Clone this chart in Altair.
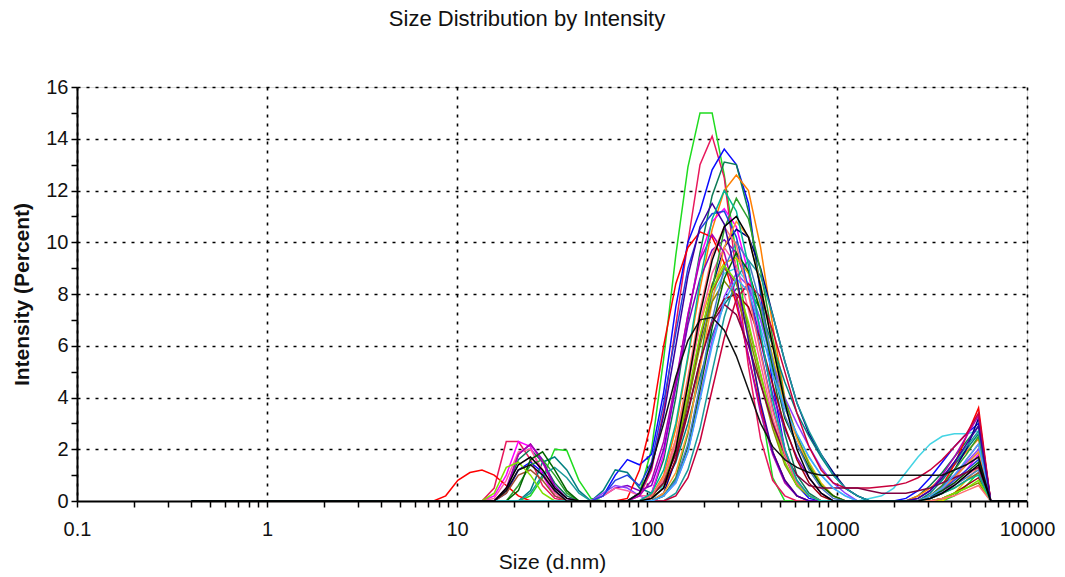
import altair as alt
import pandas as pd

# Malvern size classes (d.nm), 70 bins
SIZES = [0.4, 0.4632, 0.5365, 0.6213, 0.7195, 0.8332, 0.9649, 1.117, 1.294, 1.499,
         1.736, 2.01, 2.328, 2.696, 3.122, 3.615, 4.187, 4.849, 5.615, 6.503,
         7.531, 8.721, 10.1, 11.7, 13.54, 15.69, 18.17, 21.04, 24.36, 28.21,
         32.67, 37.84, 43.82, 50.75, 58.77, 68.06, 78.82, 91.28, 105.7, 122.4,
         141.8, 164.2, 190.1, 220.2, 255.0, 295.3, 342.0, 396.1, 458.7, 531.2,
         615.1, 712.4, 825.0, 955.4, 1106, 1281, 1484, 1718, 1990, 2305,
         2669, 3091, 3580, 4145, 4801, 5560, 6439, 7456, 8635, 10000]

# intensity (%) for bins 8.721 .. 6439 nm (46 values each); other bins are 0
R01 = [0,0,0,0,0,0,0,0.2,0.9,2.0, 1.95,0.8,0.1,0,0,0,0.3,2.0,5.5,9.5,
       12.9,15.0,15.0,12.6,9.5,6.4,3.7,0.9,0,0, 0,0,0,0,0,0,0,0,0,0, 0,0,0.2,0.6,1.1,0]
R02 = [0,0,0,0,0.5,2.3,2.3,1.6,0.6,0.1, 0,0,0,0,0,0,0.2,1.2,3.5,6.8,
       10.0,13.0,14.1,12.5,8.8,5.2,2.4,0.8,0.2,0, 0,0,0,0,0,0,0,0,0,0, 0.1,0.4,0.9,1.6,2.2,0]
R03 = [0,0,0,0,0,0.3,1.2,1.5,1.1,0.4, 0,0,0,0.2,1.0,1.6,1.4,1.8,4.2,7.5,
       10.0,11.2,12.8,13.6,13.0,11.5,8.0,4.5,2.0,0.6, 0.1,0,0,0,0,0,0,0,0.1,0.4, 0.9,1.5,2.1,2.6,3.0,0]
R04 = [0,0,0,0,0,0.4,1.6,2.0,1.5,0.7, 0.2,0,0,0,0,0,0,0.3,1.6,4.0,
       7.0,9.6,11.8,13.1,13.0,11.2,8.2,5.0,2.6,1.0, 0.3,0,0,0,0,0,0,0,0,0.2, 0.6,1.1,1.7,2.3,2.9,0]
R05 = [0,0,0,0,0,0,0,0,0,0, 0,0,0,0,0,0,0,0.2,1.0,2.8,
       5.5,8.2,10.5,12.0,12.6,12.0,9.8,6.8,4.0,2.5, 1.4,0.6,0.2,0,0,0,0,0,0,0.2, 0.5,0.9,1.4,1.9,2.4,0]
R06 = [0,0,0,0,0,0.5,1.4,1.7,1.2,0.5, 0.1,0,0,0,0,0,0,0.1,0.5,2.0,
       4.5,7.2,9.3,10.6,11.0,10.2,8.3,6.0,3.8,2.0, 0.9,0.3,0,0,0,0,0,0,0,0, 0.1,0.3,0.6,1.0,1.4,0]
R07 = [0,0,0,0,0.2,1.0,2.3,2.1,1.0,0.2, 0,0,0,0,0,0,0,0.3,1.8,4.5,
       7.2,9.4,10.8,11.3,10.6,8.8,6.4,4.0,2.0,0.8, 0.2,0,0,0,0,0,0,0,0,0, 0.1,0.3,0.7,1.2,1.8,0]
R08 = [0,0,0,0,0,0,0,0.4,1.5,1.7, 1.2,0.4,0,0.4,1.2,1.1,0.5,0.3,0.6,1.5,
       3.0,4.8,6.4,7.6,8.2,8.2,7.4,6.0,4.6,3.4, 2.5,1.7,1.0,0.5,0.2,0,0,0,0,0, 0.3,0.8,1.4,2.0,2.6,0]
R09 = [0,0,0,0,0,0.4,1.8,2.2,1.6,0.6, 0.1,0,0,0.2,0.5,0.6,0.4,0.6,2.0,4.4,
       6.8,8.6,9.7,10.1,9.6,8.2,6.2,4.1,2.8,1.7, 0.9,0.3,0,0,0,0,0,0,0,0, 0.2,0.5,0.9,1.4,1.9,0]
R10 = [0,0,0,0,0,0,0,0,0,0, 0,0,0,0,0,0,0,0.1,0.8,2.4,
       4.6,6.8,8.4,9.2,9.4,8.8,7.4,5.6,3.6,2.5, 1.5,0.7,0.2,0,0,0,0,0,0,0, 0,0,0.3,0.8,1.3,0]
R11 = [0,0,0,0,0,0,0,0,0,0, 0,0,0,0,0,0,0,0,0.6,2.0,
       4.0,6.2,7.9,8.8,9.0,8.4,7.0,5.2,3.6,2.6, 1.7,1.0,0.5,0.2,0,0.1,0.2,0.5,1.1,1.7, 2.2,2.5,2.6,2.6,2.7,0]
R12 = [0.2,0.8,1.1,1.2,1.0,0.6,0.2,0,0,0, 0,0,0,0,0,0.1,1.2,3.1,6.0,8.4,
       9.8,10.4,10.2,9.2,7.6,5.6,3.6,1.9,0.8,0.2, 0,0,0,0,0,0,0,0,0,0, 0.2,0.6,1.4,2.5,3.6,0]
R13 = [0,0,0,0,0,0,0,0,0,0, 0,0,0,0,0,0,0,0,0.3,1.6,
       3.8,6.2,8.3,9.8,10.5,10.2,9.0,7.2,5.4,3.8, 2.6,1.8,1.1,0.5,0.2,0,0,0,0,0, 0.1,0.5,1.2,2.0,3.2,0]
R14 = [0,0,0,0,0,0.4,1.2,1.4,1.0,0.4, 0,0,0,0,0,0,0.3,1.4,3.0,4.8,
       6.2,7.0,7.1,6.6,5.6,4.3,3.0,2.1,1.6,1.3, 1.1,1.0,1.0,1.0,1.0,1.0,1.0,1.0,1.0,1.0, 1.0,1.0,1.2,1.4,1.7,0]
R15 = [0,0,0,0,0,0,0,0,0,0, 0,0,0,0.3,0.6,0.5,0.2,0,0.2,0.7,
       1.9,4.0,6.2,7.9,8.8,8.3,7.0,5.3,4.0,3.0, 2.1,1.3,0.7,0.3,0,0,0,0,0,0, 0.2,0.6,1.0,1.5,2.0,0]
R16 = [0,0,0,0,0.1,0.8,1.9,2.0,1.2,0.3, 0,0,0,0.2,0.5,0.4,0.2,0.2,0.8,2.2,
       4.4,6.9,8.8,9.8,9.1,7.4,5.3,3.2,1.7,0.7, 0.2,0,0,0,0,0,0,0,0,0, 0.1,0.3,0.6,1.0,1.3,0]
R17 = [0,0,0,0,0,0,0.6,1.4,1.6,1.0, 0.3,0,0,0,0,0,0,0,0.2,0.9,
       2.6,5.3,8.2,10.5,11.7,10.9,8.9,6.3,3.9,2.5, 1.4,0.6,0.2,0,0,0,0,0,0,0, 0.2,0.6,1.2,1.8,2.5,0]
R18 = [0,0,0,0,0,0,0,0,0,0, 0,0,0,0,0,0,0,0.1,0.5,1.6,
       3.4,5.4,7.0,7.8,8.0,7.5,6.2,4.5,2.9,1.6, 0.7,0.2,0,0,0,0,0,0,0,0, 0,0.1,0.3,0.6,0.9,0]
R19 = [0,0,0,0,0,0,0,0,0,0, 0,0,0,0.2,0.8,1.0,0.6,1.5,3.8,6.5,
       9.0,10.5,11.1,11.2,10.2,8.2,5.8,3.6,1.8,0.7, 0.2,0,0,0,0,0,0,0,0,0, 0.1,0.4,0.8,1.2,1.6,0]
R20 = [0,0,0,0,0,0,0,0.3,1.0,1.3, 0.9,0.3,0,0,0,0,0,0,0,0.3,
       1.2,2.8,5.0,7.1,8.6,9.3,8.7,7.2,5.4,3.8, 2.7,1.8,1.0,0.5,0.2,0,0,0,0,0.1, 0.4,0.9,1.5,2.1,2.7,0]
R21 = [0,0,0,0,0,0,0,0,0,0, 0,0,0,0,0,0,0,0,0.3,1.1,
       2.7,5.1,7.7,9.8,10.8,10.2,8.4,6.0,3.7,2.4, 1.3,0.6,0.2,0,0,0,0,0,0,0, 0.2,0.5,0.9,1.4,1.9,0]
R22 = [0,0,0,0,0,0,0,0,0,0, 0,0,0,0,0,0,0,0.2,0.7,1.9,
       3.8,6.0,7.7,8.5,7.9,6.5,4.6,2.8,1.4,0.6, 0.2,0,0,0,0,0,0,0,0,0, 0,0.1,0.3,0.5,0.7,0]
R23 = [0,0,0,0,0,0.3,1.0,1.2,0.8,0.2, 0,0,0,0,0,0,0,0.2,0.7,2.0,
       4.0,6.3,8.1,9.0,8.4,6.8,4.9,3.0,1.5,0.6, 0.2,0,0,0,0,0,0,0,0,0, 0.1,0.3,0.5,0.8,1.1,0]
R24 = [0,0,0,0,0,0.5,1.8,2.2,1.5,0.5, 0.1,0,0,0,0,0,0.2,0.8,2.3,4.6,
       7.2,9.3,10.3,9.6,7.8,5.6,3.4,1.8,0.7,0.2, 0,0,0,0,0,0,0,0,0,0.1, 0.4,1.0,1.7,2.5,3.3,0]
R25 = [0,0,0,0,0,0,0.4,1.6,1.9,1.2, 0.4,0,0,0,0,0,0,0,0.2,0.8,
       2.1,4.3,6.7,8.6,9.6,8.9,7.3,5.2,3.2,2.2, 1.3,0.6,0.2,0,0,0,0,0,0,0, 0.2,0.4,0.7,1.1,1.5,0]
R26 = [0,0,0,0,0,0,0,0,0,0, 0,0,0,0,0,0,0,0,0,0.2,
       0.9,2.3,4.3,6.3,7.8,8.4,7.9,6.6,5.0,3.4, 2.1,1.2,0.7,0.5,0.5,0.5,0.55,0.6,0.7,0.9, 1.2,1.6,2.1,2.6,3.4,0]
R27 = [0,0,0,0,0,0,0,0,0,0, 0,0,0,0,0,0,0,0,0.2,0.8,
       2.2,4.5,7.0,9.0,10.0,9.3,7.6,5.4,3.3,2.2, 1.2,0.5,0.1,0,0,0,0,0,0,0, 0.1,0.3,0.6,0.9,1.2,0]
R28 = [0,0,0,0,0.3,1.3,1.5,1.0,0.3,0, 0,0,0,0,0,0,0,0.2,0.7,2.0,
       4.1,6.4,8.2,9.1,8.5,6.9,4.9,3.0,1.5,0.6, 0.2,0,0,0,0,0,0,0,0,0, 0,0.1,0.3,0.5,0.8,0]
R29 = [0,0,0,0,0,0,0,0,0,0, 0,0,0,0,0,0,0,0.2,0.7,1.8,
       3.5,5.4,6.9,7.6,7.2,6.0,4.5,3.0,1.8,1.0, 0.6,0.5,0.5,0.5,0.5,0.4,0.3,0.3,0.3,0.4, 0.5,0.7,0.9,1.1,1.3,0]
R30 = [0,0,0,0,0,0,0,0,0,0, 0,0,0,0,0,0,0,0,0.2,0.7,
       1.9,3.9,6.0,7.7,8.6,8.1,6.7,4.9,3.6,2.6, 1.7,1.0,0.5,0.2,0,0,0,0,0,0, 0.2,0.5,1.0,1.6,2.2,0]
R31 = [0,0,0,0,0,0,0,0,0,0, 0,0,0,0,0,0,0,0.2,0.9,2.4,
       4.8,7.4,9.5,10.6,9.9,8.0,5.7,3.5,1.8,0.7, 0.2,0,0,0,0,0,0,0,0,0, 0,0.1,0.2,0.4,0.6,0]
R32 = [0,0,0,0,0,0,0,0,0,0, 0,0,0,0,0,0,0.3,1.3,3.3,6.0,
       8.7,10.6,11.5,10.7,8.7,6.2,3.8,1.9,0.8,0.2, 0,0,0,0,0,0,0,0,0,0.1, 0.4,0.9,1.5,2.2,2.9,0]
R33 = [0,0,0,0,0,0,0,0,0,0, 0,0,0,0,0,0,0,0.3,1.2,3.0,
       5.6,8.5,10.9,12.0,11.2,9.1,6.5,3.9,2.0,0.8, 0.2,0,0,0,0,0,0,0,0,0, 0.1,0.3,0.5,0.8,1.0,0]

# drawing order (first drawn at the bottom, the black runs last)
RUNS = [R01, R02, R03, R04, R05, R07, R08, R09, R10, R11, R12, R13, R15, R16, R17,
        R18, R19, R20, R21, R22, R23, R24, R25, R26, R27, R28, R29, R30, R31, R32, R33, R14, R06]
COLORS = ["#1fdc1f", "#e8185c", "#0a0aff", "#0b7a55", "#ff7f00", "#ff00ff",
          "#008080", "#8000c0", "#d8c000", "#44d4e4", "#ff0000", "#000080",
          "#9040ff", "#ff5fa0", "#2ca02c", "#a00010", "#2040e0", "#1a9a9a", "#ff9a30",
          "#8a8a00", "#a0522d", "#b000b0", "#006400", "#c8003c", "#4a78c8", "#7fe000",
          "#800040", "#40a8ff", "#ff7070", "#3a00a0", "#00b894", "#111111", "#000000"]

X_TICKS = [0.1, 0.2, 0.3, 0.4, 0.5, 0.6, 0.7, 0.8, 0.9,
           1, 2, 3, 4, 5, 6, 7, 8, 9,
           10, 20, 30, 40, 50, 60, 70, 80, 90,
           100, 200, 300, 400, 500, 600, 700, 800, 900,
           1000, 2000, 3000, 4000, 5000, 6000, 7000, 8000, 9000, 10000]
Y_TICKS = list(range(0, 17))

rows = []
names = []
for i, vals in enumerate(RUNS):
    assert len(vals) == 46, (i, len(vals))
    name = "r%02d" % (i + 1)
    names.append(name)
    full = [0] * 21 + vals + [0] * 3
    for s, v in zip(SIZES, full):
        rows.append({"run": name, "size": s, "intensity": v})
df = pd.DataFrame(rows)

FONT = "Liberation Sans"
decade_test = "indexof([0.1,1,10,100,1000,10000], datum.value) >= 0"

x_axis = alt.Axis(
    values=X_TICKS,
    labelExpr="indexof([0.1,1,10,100,1000,10000], datum.value) >= 0 ? (datum.value < 1 ? '0.1' : format(datum.value, 'd')) : ''",
    grid=True, gridColor="black", gridDash=[3, 6], gridWidth=1.6,
    gridOpacity={"condition": {"test": decade_test, "value": 1}, "value": 0},
    tickSize=6, tickColor="black", tickWidth=1.5,
    domainColor="black", domainWidth=2,
    labelFont=FONT, labelFontSize=20, labelColor="#111", labelPadding=12,
    labelFlush=False, labelOverlap=False,
    title="Size (d.nm)", titleFont=FONT, titleFontSize=21, titleFontWeight="normal",
    titleColor="#111", titlePadding=12,
)
y_axis = alt.Axis(
    values=Y_TICKS,
    labelExpr="datum.value % 2 == 0 ? datum.label : ''",
    grid=True, gridColor="black", gridDash=[3, 6], gridWidth=1.6,
    gridOpacity={"condition": {"test": "datum.value > 0 && datum.value % 2 == 0", "value": 1}, "value": 0},
    tickSize=6, tickColor="black", tickWidth=1.5,
    domainColor="black", domainWidth=2,
    labelFont=FONT, labelFontSize=20, labelColor="#111", labelPadding=3,
    labelFlush=False, labelOverlap=False,
    title="Intensity (Percent)", titleFont=FONT, titleFontSize=21, titleFontWeight="bold",
    titleColor="#111", titlePadding=13,
)

chart = alt.Chart(df).mark_line(strokeWidth=1.5, clip=True).encode(
    x=alt.X("size:Q", scale=alt.Scale(type="log", domain=[0.1, 10000]), axis=x_axis),
    y=alt.Y("intensity:Q", scale=alt.Scale(domain=[0, 16], nice=False), axis=y_axis),
    color=alt.Color("run:N", scale=alt.Scale(domain=names, range=COLORS), legend=None),
).properties(
    width=950, height=414,
    title=alt.TitleParams("Size Distribution by Intensity", font=FONT, fontSize=22,
                          fontWeight="normal", color="#111", anchor="middle",
                          frame="group", offset=46, dx=-25),
    padding={"left": 77, "top": 87, "right": 38, "bottom": 76},
    autosize=alt.AutoSizeParams(type="none"),
).configure_view(stroke=None).configure(background="white")

chart.save("out.html", embed_options={"renderer": "svg", "actions": False})
